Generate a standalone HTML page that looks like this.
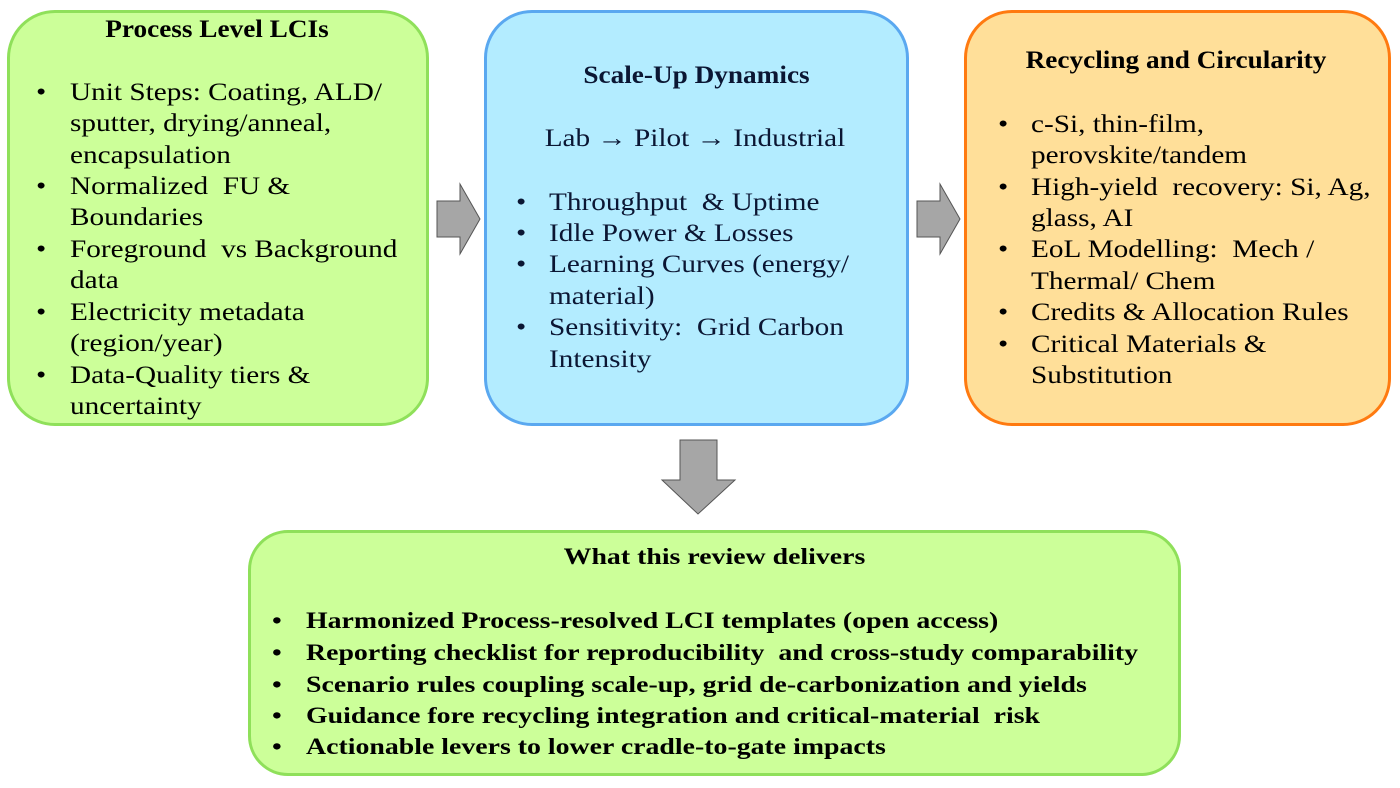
<!DOCTYPE html>
<html><head><meta charset="utf-8"><style>
html,body{margin:0;padding:0;background:#fff;}
body{width:1400px;height:788px;position:relative;overflow:hidden;font-family:"Liberation Serif","DejaVu Serif",serif;color:#000;}
.box{position:absolute;box-sizing:border-box;border-radius:48px;}
.t{position:absolute;white-space:nowrap;font-size:25px;line-height:30px;transform:scaleX(1.17);transform-origin:0 50%;}
.c{transform-origin:50% 50%;text-align:center;}
.h{transform:scaleX(1.09);}
.b{font-weight:bold;}
.s{font-size:23px;transform:scaleX(1.21);}
</style></head><body>
<div class="box" style="left:7px;top:10px;width:422px;height:416px;background:#ccff99;border:3px solid #8fe05a;"></div>
<div class="box" style="left:484px;top:10px;width:425px;height:416px;background:#b3ecff;border:3px solid #5aa8f0;"></div>
<div class="box" style="left:964px;top:10px;width:427px;height:416px;background:#ffdf99;border:3px solid #ff7a10;"></div>
<div class="box" style="left:248px;top:530px;width:933px;height:246px;background:#ccff99;border:3px solid #8fe05a;border-radius:40px;"></div>

<svg width="1400" height="788" style="position:absolute;left:0;top:0">
<polygon points="437,201 460,201 460,184 480,219 460,254 460,237 437,237" fill="#a6a6a6" stroke="#555" stroke-width="1"/>
<polygon points="917,201 940,201 940,184 960,219 940,254 940,237 917,237" fill="#a6a6a6" stroke="#555" stroke-width="1"/>
<polygon points="680,440 717,440 717,480 735,480 698,514 662,480 680,480" fill="#a6a6a6" stroke="#555" stroke-width="1"/>
</svg>

<!-- green -->
<div class="t b c h" style="left:0;width:434px;top:15px;">Process Level LCIs</div>
<div class="t" style="left:36px;top:78px;">•</div><div class="t" style="left:70px;top:78px;">Unit Steps: Coating, ALD/</div>
<div class="t" style="left:70px;top:109px;">sputter, drying/anneal,</div>
<div class="t" style="left:70px;top:141px;">encapsulation</div>
<div class="t" style="left:36px;top:172px;">•</div><div class="t" style="left:70px;top:172px;">Normalized&nbsp; FU &amp;</div>
<div class="t" style="left:70px;top:203px;">Boundaries</div>
<div class="t" style="left:36px;top:235px;">•</div><div class="t" style="left:70px;top:235px;">Foreground&nbsp; vs Background</div>
<div class="t" style="left:70px;top:266px;">data</div>
<div class="t" style="left:36px;top:298px;">•</div><div class="t" style="left:70px;top:298px;">Electricity metadata</div>
<div class="t" style="left:70px;top:329px;">(region/year)</div>
<div class="t" style="left:36px;top:361px;">•</div><div class="t" style="left:70px;top:361px;">Data-Quality tiers &amp;</div>
<div class="t" style="left:70px;top:392px;">uncertainty</div>

<!-- blue -->
<div style="color:#0b1633">
<div class="t b c h" style="left:484px;width:425px;top:61px;">Scale-Up Dynamics</div>
<div class="t c" style="left:495px;width:400px;top:124px;">Lab → Pilot → Industrial</div>
<div class="t" style="left:516px;top:188px;">•</div><div class="t" style="left:549px;top:188px;">Throughput&nbsp; &amp; Uptime</div>
<div class="t" style="left:516px;top:219px;">•</div><div class="t" style="left:549px;top:219px;">Idle Power &amp; Losses</div>
<div class="t" style="left:516px;top:250px;">•</div><div class="t" style="left:549px;top:250px;">Learning Curves (energy/</div>
<div class="t" style="left:549px;top:282px;">material)</div>
<div class="t" style="left:516px;top:313px;">•</div><div class="t" style="left:549px;top:313px;">Sensitivity:&nbsp; Grid Carbon</div>
<div class="t" style="left:549px;top:345px;">Intensity</div>
</div>

<!-- orange -->
<div class="t b c h" style="left:964px;width:424px;top:46px;">Recycling and Circularity</div>
<div class="t" style="left:998px;top:110px;">•</div><div class="t" style="left:1031px;top:110px;">c-Si, thin-film,</div>
<div class="t" style="left:1031px;top:141px;">perovskite/tandem</div>
<div class="t" style="left:998px;top:173px;">•</div><div class="t" style="left:1031px;top:173px;">High-yield&nbsp; recovery: Si, Ag,</div>
<div class="t" style="left:1031px;top:204px;">glass, AI</div>
<div class="t" style="left:998px;top:235px;">•</div><div class="t" style="left:1031px;top:235px;">EoL Modelling:&nbsp; Mech /</div>
<div class="t" style="left:1031px;top:267px;">Thermal/ Chem</div>
<div class="t" style="left:998px;top:298px;">•</div><div class="t" style="left:1031px;top:298px;">Credits &amp; Allocation Rules</div>
<div class="t" style="left:998px;top:330px;">•</div><div class="t" style="left:1031px;top:330px;">Critical Materials &amp;</div>
<div class="t" style="left:1031px;top:361px;">Substitution</div>

<!-- bottom -->
<div class="t b c s" style="left:248px;width:933px;top:542px;">What this review delivers</div>
<div class="t b s" style="left:272px;top:606px;">•</div><div class="t b s" style="left:306px;top:606px;">Harmonized Process-resolved LCI templates (open access)</div>
<div class="t b s" style="left:272px;top:638px;">•</div><div class="t b s" style="left:306px;top:638px;">Reporting checklist for reproducibility&nbsp; and cross-study comparability</div>
<div class="t b s" style="left:272px;top:670px;">•</div><div class="t b s" style="left:306px;top:670px;">Scenario rules coupling scale-up, grid de-carbonization and yields</div>
<div class="t b s" style="left:272px;top:701px;">•</div><div class="t b s" style="left:306px;top:701px;">Guidance fore recycling integration and critical-material&nbsp; risk</div>
<div class="t b s" style="left:272px;top:732px;">•</div><div class="t b s" style="left:306px;top:732px;">Actionable levers to lower cradle-to-gate impacts</div>
</body></html>
